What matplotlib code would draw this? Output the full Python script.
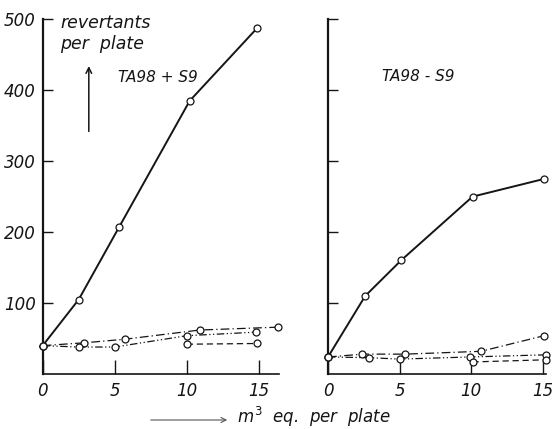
import matplotlib
matplotlib.use("Agg")
import matplotlib.pyplot as plt
from matplotlib.patches import FancyArrowPatch

plt.rcParams["mathtext.fontset"] = "dejavusans"

# TA98 + S9 (left panel)
l_solid_x = [0, 2.5, 5.3, 10.2, 14.9]
l_solid_y = [40, 105, 207, 385, 488]
l_dashdot_x = [0, 2.9, 5.7, 10.9, 16.3]
l_dashdot_y = [40, 44, 49, 62, 66]
l_dashdotdot_x = [0, 2.5, 5.0, 10.0, 14.8]
l_dashdotdot_y = [40, 38, 38, 54, 59]
l_dashed_x = [10.0, 14.9]
l_dashed_y = [42, 43]

# TA98 - S9 (right panel)
r_solid_x = [0, 2.6, 5.1, 10.1, 15.1]
r_solid_y = [24, 110, 160, 250, 275]
r_dashdot_x = [0, 2.4, 5.4, 10.7, 15.1]
r_dashdot_y = [24, 28, 28, 32, 54]
r_dashdotdot_x = [0, 2.9, 5.0, 9.9, 15.2]
r_dashdotdot_y = [24, 23, 21, 24, 27]
r_dashed_x = [10.1, 15.2]
r_dashed_y = [17, 20]

x_ticks = [0, 5, 10, 15]
x_ticklabels = ["0", "5", "10", "15"]
y_ticks = [100, 200, 300, 400, 500]
y_ticklabels = ["100", "200", "300", "400", "500"]

INK = "#151515"
FONT = dict(family="DejaVu Sans", style="italic")
FS = 11

styles = {
    "solid": "-",
    "dashdot": (0, (7, 2.5, 1, 2.5)),
    "dashdotdot": (0, (6, 2, 1, 2, 1, 2)),
    "dashed": (0, (5, 3)),
}

fig = plt.figure(figsize=(5.52, 4.29), dpi=100)
W, H = 552, 429


def make_axes(x0, x1, y_top, y_bot):
    return fig.add_axes([x0 / W, 1 - y_bot / H, (x1 - x0) / W, (y_bot - y_top) / H])


axL = make_axes(42.7, 279, 19.3, 374)
axR = make_axes(328, 545.5, 19.3, 374)


def series(ax, xs, ys, key, lw):
    ax.plot(xs, ys, linestyle=styles[key], color=INK, lw=lw, marker="o",
            markersize=5, markerfacecolor="white", markeredgecolor=INK,
            markeredgewidth=0.9, clip_on=False, zorder=3)


for ax, xmax, data in [
    (axL, 16.4, [(l_solid_x, l_solid_y, "solid", 1.4),
                 (l_dashdot_x, l_dashdot_y, "dashdot", 0.9),
                 (l_dashdotdot_x, l_dashdotdot_y, "dashdotdot", 0.9),
                 (l_dashed_x, l_dashed_y, "dashed", 0.9)]),
    (axR, 15.2, [(r_solid_x, r_solid_y, "solid", 1.4),
                 (r_dashdot_x, r_dashdot_y, "dashdot", 0.9),
                 (r_dashdotdot_x, r_dashdotdot_y, "dashdotdot", 0.9),
                 (r_dashed_x, r_dashed_y, "dashed", 0.9)]),
]:
    for xs, ys, key, lw in data:
        series(ax, xs, ys, key, lw)
    ax.set_xlim(0, xmax)
    ax.set_ylim(0, 500)
    for side in ("top", "right"):
        ax.spines[side].set_visible(False)
    ax.spines["left"].set_linewidth(1.6)
    ax.spines["bottom"].set_linewidth(1.2)
    ax.spines["left"].set_color(INK)
    ax.spines["bottom"].set_color(INK)
    ax.set_xticks(x_ticks)
    ax.set_xticklabels(x_ticklabels, fontsize=FS + 1, **FONT)
    ax.set_yticks(y_ticks)
    ax.tick_params(axis="x", direction="in", length=10, width=1.0, color=INK,
                   pad=6, labelcolor=INK)
    ax.tick_params(axis="y", direction="in", length=7, width=1.0, color=INK,
                   pad=5, labelcolor=INK)
    ax.patch.set_visible(False)

axL.set_yticklabels(y_ticklabels, fontsize=FS + 1, **FONT)
axR.set_yticklabels([])

# axis caption for y and its arrow
axL.text(0.075, 1.015, "revertants\nper  plate", transform=axL.transAxes,
         ha="left", va="top", fontsize=12.5, linespacing=1.25, color=INK,
         **FONT)
axL.annotate("", xy=(3.2, 438), xytext=(3.2, 338),
             arrowprops=dict(arrowstyle="->", lw=1.1, color=INK,
                             mutation_scale=10))

axL.text(8.0, 418, "TA98 + S9", ha="center", va="center", fontsize=FS,
         color=INK, **FONT)
axR.text(6.3, 420, "TA98 - S9", ha="center", va="center", fontsize=FS,
         color=INK, **FONT)

# x caption with arrow
fig.text(237 / W, 1 - 423 / H, r"$m^3$  eq.  per  plate", ha="left",
         va="baseline", fontsize=12, color=INK, **FONT)
fig.patches.append(FancyArrowPatch(
    (148 / W, 1 - 420 / H), (230 / W, 1 - 420 / H),
    transform=fig.transFigure, arrowstyle="->", mutation_scale=9,
    lw=0.8, color="#555555"))

fig.savefig("out.png", dpi=100)
